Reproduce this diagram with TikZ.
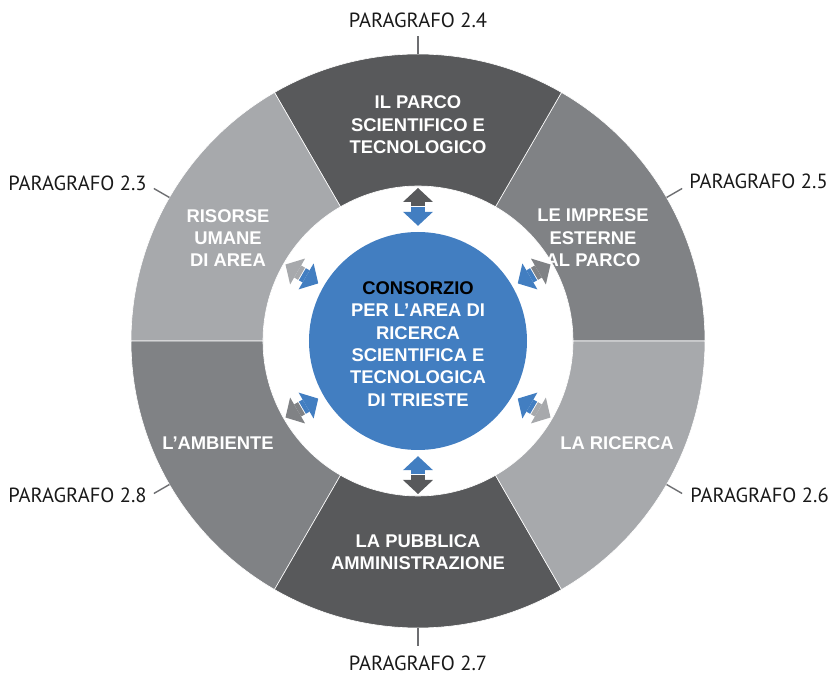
\documentclass[tikz,border=0pt]{standalone}
\usepackage{fontspec}
\setmainfont{PT Sans}
\newfontfamily\labfont{Liberation Sans}
\usetikzlibrary{positioning,calc,arrows.meta}

\definecolor{darkgr}{HTML}{58595B}
\definecolor{midgr}{HTML}{808285}
\definecolor{lightgr}{HTML}{A7A9AC}
\definecolor{consblue}{HTML}{427EC1}
\definecolor{tickgr}{HTML}{6D6E71}

\tikzset{
	sector/.style={draw=white, line width=0.6pt},
	seclabel/.style={text=white, align=center, inner sep=0pt, font=\labfont\bfseries\fontsize{18.4}{22.4}\selectfont},
	paralabel/.style={inner sep=0pt, text=black!90, font=\fontsize{20.5}{24}\selectfont},
	ticks/.style={draw=tickgr, line width=1.4pt},
	halfarrow/.style={line width=14pt, -{Triangle[length=14pt, width=30pt, line width=0pt]}},
}

\begin{document}
\begin{tikzpicture}[x=1pt, y=1pt]
	\useasboundingbox (-418,-335) rectangle (412,341);
	\foreach \a/\c [evaluate=\a as \b using \a+60] in {0/midgr,60/darkgr,120/lightgr,180/midgr,240/darkgr,300/lightgr}
		\filldraw[sector, fill=\c] (\a:155) arc[start angle=\a, end angle=\b, radius=155] -- (\b:287) arc[start angle=\b, end angle=\a, radius=287] -- cycle;
	\node[name=cons, circle, fill=consblue, minimum size=218pt, inner sep=0pt] at (0,0) {};
	\node[seclabel] (constext) at ([yshift=-3pt]cons.center) {\textcolor{black}{CONSORZIO}\\PER L’AREA DI\\RICERCA\\SCIENTIFICA E\\TECNOLOGICA\\DI TRIESTE};
	\node[seclabel] (parco) at (0,216) {IL PARCO\\SCIENTIFICO E\\TECNOLOGICO};
	\node[seclabel] (imprese) at (175,103) {LE IMPRESE\\ESTERNE\\AL PARCO};
	\node[seclabel] (risorse) at (-190,103) {RISORSE\\UMANE\\DI AREA};
	\node[seclabel] (ambiente) at (-200,-102) {L’AMBIENTE};
	\node[seclabel] (ricerca) at (199,-102) {LA RICERCA};
	\node[seclabel] (pa) at (0,-211) {LA PUBBLICA\\AMMINISTRAZIONE};
	% two-colour arrows between the consortium and each area
	\foreach \a/\c in {30/midgr,90/darkgr,150/lightgr,210/midgr,270/darkgr,330/lightgr}{
		\coordinate (mi\a) at (\a:133.5);
		\coordinate (mo\a) at (\a:134.5);
		\coordinate (rim\a) at (\a:155);
		\draw[halfarrow, consblue, shorten >=6pt] (mi\a) -- (cons.\a);
		\draw[halfarrow, \c, shorten >=2pt] (mo\a) -- (rim\a);
		\draw[ticks] (\a:287) coordinate (e\a) -- (\a:305) coordinate (t\a);
	}
	\node[paralabel, above=8pt of t90] (p24) {PARAGRAFO 2.4};
	\node[paralabel, anchor=base west] (p25) at ([xshift=7pt]t30) {PARAGRAFO 2.5};
	\node[paralabel, anchor=base east] (p23) at ([shift={(-7pt,-2pt)}]t150) {PARAGRAFO 2.3};
	\node[paralabel, anchor=base west] (p26) at ([shift={(8pt,-9.5pt)}]t330) {PARAGRAFO 2.6};
	\node[paralabel, anchor=base east] (p28) at ([shift={(-7pt,-9.5pt)}]t210) {PARAGRAFO 2.8};
	\node[paralabel, below=10pt of t270] (p27) {PARAGRAFO 2.7};
\end{tikzpicture}
\end{document}
